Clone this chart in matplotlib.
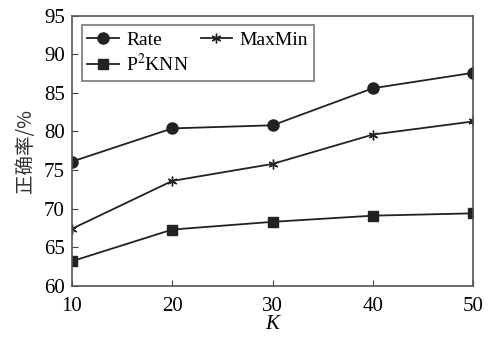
import matplotlib
matplotlib.use("Agg")
import matplotlib.pyplot as plt

# data
k_values = [10, 20, 30, 40, 50]
rate = [76.1, 80.4, 80.8, 85.6, 87.6]
maxmin = [67.4, 73.6, 75.8, 79.6, 81.3]
p2knn = [63.2, 67.3, 68.3, 69.1, 69.4]
y_ticks = [60, 65, 70, 75, 80, 85, 90, 95]

plt.rcParams["font.family"] = ["Liberation Serif", "Noto Sans CJK SC"]
plt.rcParams["mathtext.fontset"] = "stix"

fig = plt.figure(figsize=(4.96, 3.4), dpi=100)
ax = fig.add_axes([0.145, 0.159, 0.809, 0.795])

line_kw = dict(color="#222222", lw=1.3)
h_rate, = ax.plot(k_values, rate, marker="o", ms=8, label="Rate", **line_kw)
h_mm, = ax.plot(k_values, maxmin, marker=(6, 2, 0), ms=7, mew=1.0, label="MaxMin", **line_kw)
h_p2, = ax.plot(k_values, p2knn, marker="s", ms=7, label="P$^2$KNN", **line_kw)

ax.set_xlim(10, 50)
ax.set_ylim(60, 95)
ax.set_xticks(k_values)
ax.set_yticks(y_ticks)
ax.tick_params(direction="in", labelsize=15, length=4, color="#444444")
ax.tick_params(axis="x", pad=8)
ax.tick_params(axis="y", pad=5)
for s in ax.spines.values():
    s.set_color("#555555")
    s.set_linewidth(1.2)

ax.set_xlabel("K", fontsize=15, style="italic", labelpad=-1)
ax.set_ylabel("正确率/%", fontsize=14, labelpad=6,
              family=["Noto Sans CJK SC", "DejaVu Sans"], color="#333333")

# column-wise fill: Rate / P2KNN in col 1, MaxMin in col 2
leg = ax.legend([h_rate, h_p2, h_mm], ["Rate", "P$^2$KNN", "MaxMin"],
                loc="upper left", ncol=2, fontsize=14, frameon=True, fancybox=False,
                edgecolor="#555555", borderaxespad=0.5, handlelength=1.6,
                columnspacing=0.6, handletextpad=0.4, borderpad=0.3, labelspacing=0.2)
leg.get_frame().set_linewidth(1.2)

fig.savefig("out.png", dpi=100)
